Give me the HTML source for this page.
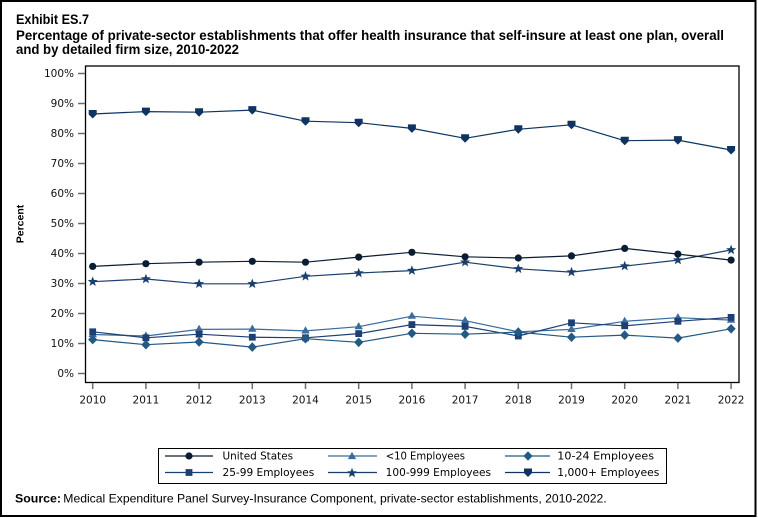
<!DOCTYPE html>
<html><head><meta charset="utf-8"><style>
html,body{margin:0;padding:0;background:#fff;}
svg{display:block;}
</style></head><body>
<svg width="758" height="518" viewBox="0 0 758 518" xmlns="http://www.w3.org/2000/svg">
<defs>
<circle id="mC" r="3.6"/>
<path id="mT" d="M0,-4.6 L4.2,2.6 L-4.2,2.6 Z"/>
<path id="mD" d="M0,-4.8 L4.6,0 L0,4.8 L-4.6,0 Z"/>
<rect id="mS" x="-3.4" y="-3.4" width="6.8" height="6.8"/>
<path id="mStar" d="M0,-5.3 L1.3,-1.8 L5.0,-1.6 L2.1,0.7 L3.1,4.3 L0,2.2 L-3.1,4.3 L-2.1,0.7 L-5.0,-1.6 L-1.3,-1.8 Z"/>
<path id="mV" d="M-4,-4 L4,-4 L4,0.5 L0,4.5 L-4,0.5 Z"/>
</defs>
<rect x="0" y="0" width="758" height="518" fill="#fff"/>
<rect x="1" y="1" width="754.5" height="515" fill="none" stroke="#000" stroke-width="2"/>

<g font-family="'Liberation Sans', Arial, sans-serif" font-weight="bold" font-size="13.5" fill="#000">
<text x="16" y="24" textLength="73" lengthAdjust="spacingAndGlyphs">Exhibit ES.7</text>
<text x="16" y="40" textLength="708" lengthAdjust="spacingAndGlyphs">Percentage of private-sector establishments that offer health insurance that self-insure at least one plan, overall</text>
<text x="16" y="54" textLength="223" lengthAdjust="spacingAndGlyphs">and by detailed firm size, 2010-2022</text>
</g>

<!-- plot frame -->
<rect x="85.5" y="66" width="653.5" height="316.5" fill="none" stroke="#000" stroke-width="1.3"/>

<!-- y ticks -->
<g stroke="#6d6d6d" stroke-width="1.5">
<line x1="78" y1="73.5" x2="85" y2="73.5"/>
<line x1="78" y1="103.5" x2="85" y2="103.5"/>
<line x1="78" y1="133.5" x2="85" y2="133.5"/>
<line x1="78" y1="163.5" x2="85" y2="163.5"/>
<line x1="78" y1="193.5" x2="85" y2="193.5"/>
<line x1="78" y1="223.5" x2="85" y2="223.5"/>
<line x1="78" y1="253.5" x2="85" y2="253.5"/>
<line x1="78" y1="283.5" x2="85" y2="283.5"/>
<line x1="78" y1="313.5" x2="85" y2="313.5"/>
<line x1="78" y1="343.5" x2="85" y2="343.5"/>
<line x1="78" y1="373.5" x2="85" y2="373.5"/>
</g>
<g font-family="'DejaVu Sans', sans-serif" font-size="10.5" fill="#111" text-anchor="end">
<text x="74" y="77.2">100%</text>
<text x="74" y="107.2">90%</text>
<text x="74" y="137.2">80%</text>
<text x="74" y="167.2">70%</text>
<text x="74" y="197.2">60%</text>
<text x="74" y="227.2">50%</text>
<text x="74" y="257.2">40%</text>
<text x="74" y="287.2">30%</text>
<text x="74" y="317.2">20%</text>
<text x="74" y="347.2">10%</text>
<text x="74" y="377.2">0%</text>
</g>
<text x="0" y="0" transform="translate(23.5,224) rotate(-90)" text-anchor="middle" font-family="'Liberation Sans', Arial, sans-serif" font-weight="bold" font-size="10.5" fill="#000">Percent</text>

<!-- x ticks -->
<g stroke="#6d6d6d" stroke-width="1.5">
<line x1="92.7" y1="383" x2="92.7" y2="389"/>
<line x1="145.9" y1="383" x2="145.9" y2="389"/>
<line x1="199.1" y1="383" x2="199.1" y2="389"/>
<line x1="252.3" y1="383" x2="252.3" y2="389"/>
<line x1="305.5" y1="383" x2="305.5" y2="389"/>
<line x1="358.7" y1="383" x2="358.7" y2="389"/>
<line x1="411.9" y1="383" x2="411.9" y2="389"/>
<line x1="465.1" y1="383" x2="465.1" y2="389"/>
<line x1="518.3" y1="383" x2="518.3" y2="389"/>
<line x1="571.5" y1="383" x2="571.5" y2="389"/>
<line x1="624.7" y1="383" x2="624.7" y2="389"/>
<line x1="677.9" y1="383" x2="677.9" y2="389"/>
<line x1="731.1" y1="383" x2="731.1" y2="389"/>
</g>
<g font-family="'DejaVu Sans', sans-serif" font-size="10.5" fill="#111" text-anchor="middle">
<text x="92.7" y="403.3">2010</text>
<text x="145.9" y="403.3">2011</text>
<text x="199.1" y="403.3">2012</text>
<text x="252.3" y="403.3">2013</text>
<text x="305.5" y="403.3">2014</text>
<text x="358.7" y="403.3">2015</text>
<text x="411.9" y="403.3">2016</text>
<text x="465.1" y="403.3">2017</text>
<text x="518.3" y="403.3">2018</text>
<text x="571.5" y="403.3">2019</text>
<text x="624.7" y="403.3">2020</text>
<text x="677.9" y="403.3">2021</text>
<text x="731.1" y="403.3">2022</text>
</g>

<!-- series lines -->
<g fill="none" stroke-width="1.2" stroke-linejoin="round">
<polyline stroke="#3a6c9c" points="92.7,334.5 145.9,336.0 199.1,329.4 252.3,329.1 305.5,330.9 358.7,326.7 411.9,316.2 465.1,320.7 518.3,331.8 571.5,329.4 624.7,321.3 677.9,317.7 731.1,320.1"/>
<polyline stroke="#1c3f75" points="92.7,331.8 145.9,337.8 199.1,334.2 252.3,337.2 305.5,337.8 358.7,333.6 411.9,324.6 465.1,326.4 518.3,336.0 571.5,322.8 624.7,325.8 677.9,321.3 731.1,317.4"/>
<polyline stroke="#235a82" points="92.7,339.6 145.9,344.7 199.1,342.0 252.3,347.1 305.5,338.7 358.7,342.3 411.9,333.3 465.1,334.2 518.3,332.1 571.5,337.2 624.7,335.1 677.9,338.1 731.1,328.8"/>
<polyline stroke="#1a3f6c" points="92.7,281.7 145.9,279.0 199.1,283.8 252.3,283.8 305.5,276.3 358.7,273.0 411.9,270.6 465.1,262.2 518.3,268.8 571.5,272.1 624.7,266.1 677.9,260.1 731.1,249.9"/>
<polyline stroke="#0b1d33" points="92.7,266.4 145.9,263.7 199.1,262.2 252.3,261.3 305.5,262.2 358.7,257.1 411.9,252.3 465.1,256.8 518.3,258.0 571.5,255.9 624.7,248.4 677.9,254.1 731.1,260.1"/>
<polyline stroke="#0f3461" points="92.7,114.0 145.9,111.6 199.1,112.2 252.3,110.1 305.5,121.2 358.7,122.7 411.9,128.4 465.1,138.3 518.3,129.3 571.5,124.8 624.7,140.7 677.9,140.1 731.1,150.0"/>
</g>

<!-- markers -->
<g fill="#3a6c9c">
<use href="#mT" x="92.7" y="334.5"/><use href="#mT" x="145.9" y="336.0"/><use href="#mT" x="199.1" y="329.4"/><use href="#mT" x="252.3" y="329.1"/><use href="#mT" x="305.5" y="330.9"/><use href="#mT" x="358.7" y="326.7"/><use href="#mT" x="411.9" y="316.2"/><use href="#mT" x="465.1" y="320.7"/><use href="#mT" x="518.3" y="331.8"/><use href="#mT" x="571.5" y="329.4"/><use href="#mT" x="624.7" y="321.3"/><use href="#mT" x="677.9" y="317.7"/><use href="#mT" x="731.1" y="320.1"/>
</g>
<g fill="#1c3f75">
<use href="#mS" x="92.7" y="331.8"/><use href="#mS" x="145.9" y="337.8"/><use href="#mS" x="199.1" y="334.2"/><use href="#mS" x="252.3" y="337.2"/><use href="#mS" x="305.5" y="337.8"/><use href="#mS" x="358.7" y="333.6"/><use href="#mS" x="411.9" y="324.6"/><use href="#mS" x="465.1" y="326.4"/><use href="#mS" x="518.3" y="336.0"/><use href="#mS" x="571.5" y="322.8"/><use href="#mS" x="624.7" y="325.8"/><use href="#mS" x="677.9" y="321.3"/><use href="#mS" x="731.1" y="317.4"/>
</g>
<g fill="#235a82">
<use href="#mD" x="92.7" y="339.6"/><use href="#mD" x="145.9" y="344.7"/><use href="#mD" x="199.1" y="342.0"/><use href="#mD" x="252.3" y="347.1"/><use href="#mD" x="305.5" y="338.7"/><use href="#mD" x="358.7" y="342.3"/><use href="#mD" x="411.9" y="333.3"/><use href="#mD" x="465.1" y="334.2"/><use href="#mD" x="518.3" y="332.1"/><use href="#mD" x="571.5" y="337.2"/><use href="#mD" x="624.7" y="335.1"/><use href="#mD" x="677.9" y="338.1"/><use href="#mD" x="731.1" y="328.8"/>
</g>
<g fill="#1a3f6c">
<use href="#mStar" x="92.7" y="281.7"/><use href="#mStar" x="145.9" y="279.0"/><use href="#mStar" x="199.1" y="283.8"/><use href="#mStar" x="252.3" y="283.8"/><use href="#mStar" x="305.5" y="276.3"/><use href="#mStar" x="358.7" y="273.0"/><use href="#mStar" x="411.9" y="270.6"/><use href="#mStar" x="465.1" y="262.2"/><use href="#mStar" x="518.3" y="268.8"/><use href="#mStar" x="571.5" y="272.1"/><use href="#mStar" x="624.7" y="266.1"/><use href="#mStar" x="677.9" y="260.1"/><use href="#mStar" x="731.1" y="249.9"/>
</g>
<g fill="#0b1d33">
<use href="#mC" x="92.7" y="266.4"/><use href="#mC" x="145.9" y="263.7"/><use href="#mC" x="199.1" y="262.2"/><use href="#mC" x="252.3" y="261.3"/><use href="#mC" x="305.5" y="262.2"/><use href="#mC" x="358.7" y="257.1"/><use href="#mC" x="411.9" y="252.3"/><use href="#mC" x="465.1" y="256.8"/><use href="#mC" x="518.3" y="258.0"/><use href="#mC" x="571.5" y="255.9"/><use href="#mC" x="624.7" y="248.4"/><use href="#mC" x="677.9" y="254.1"/><use href="#mC" x="731.1" y="260.1"/>
</g>
<g fill="#0f3461">
<use href="#mV" x="92.7" y="114.0"/><use href="#mV" x="145.9" y="111.6"/><use href="#mV" x="199.1" y="112.2"/><use href="#mV" x="252.3" y="110.1"/><use href="#mV" x="305.5" y="121.2"/><use href="#mV" x="358.7" y="122.7"/><use href="#mV" x="411.9" y="128.4"/><use href="#mV" x="465.1" y="138.3"/><use href="#mV" x="518.3" y="129.3"/><use href="#mV" x="571.5" y="124.8"/><use href="#mV" x="624.7" y="140.7"/><use href="#mV" x="677.9" y="140.1"/><use href="#mV" x="731.1" y="150.0"/>
</g>

<!-- legend -->
<rect x="158.5" y="448.5" width="508" height="35" fill="#fff" stroke="#000" stroke-width="1"/>
<g stroke-width="1.2">
<line x1="165" y1="456" x2="213" y2="456" stroke="#0b1d33"/>
<line x1="328" y1="456" x2="377" y2="456" stroke="#3a6c9c"/>
<line x1="505" y1="456" x2="550" y2="456" stroke="#235a82"/>
<line x1="165" y1="472.5" x2="213" y2="472.5" stroke="#1c3f75"/>
<line x1="328" y1="472.5" x2="377" y2="472.5" stroke="#1a3f6c"/>
<line x1="505" y1="472.5" x2="550" y2="472.5" stroke="#0f3461"/>
</g>
<use href="#mC" x="189" y="456" fill="#0b1d33"/>
<use href="#mT" x="352" y="456.5" fill="#3a6c9c"/>
<use href="#mD" x="528" y="456" fill="#235a82"/>
<use href="#mS" x="189" y="472.5" fill="#1c3f75"/>
<use href="#mStar" x="352" y="473" fill="#1a3f6c"/>
<use href="#mV" x="528" y="472.5" fill="#0f3461"/>
<g font-family="'DejaVu Sans', sans-serif" font-size="10.5" fill="#000">
<text x="222.5" y="459.3" textLength="70.6" lengthAdjust="spacingAndGlyphs">United States</text>
<text x="385.7" y="459.3" textLength="79.3" lengthAdjust="spacingAndGlyphs">&lt;10 Employees</text>
<text x="557.3" y="459.3" textLength="96.7" lengthAdjust="spacingAndGlyphs">10-24 Employees</text>
<text x="222.5" y="476" textLength="91.8" lengthAdjust="spacingAndGlyphs">25-99 Employees</text>
<text x="385.7" y="476" textLength="105.3" lengthAdjust="spacingAndGlyphs">100-999 Employees</text>
<text x="557.3" y="476" textLength="102" lengthAdjust="spacingAndGlyphs">1,000+ Employees</text>
</g>

<!-- source -->
<g font-family="'Liberation Sans', Arial, sans-serif" font-size="12" fill="#000">
<text x="15" y="502.6" font-weight="bold" textLength="46" lengthAdjust="spacingAndGlyphs">Source:</text>
<text x="63.3" y="502.6" textLength="543.4" lengthAdjust="spacingAndGlyphs">Medical Expenditure Panel Survey-Insurance Component, private-sector establishments, 2010-2022.</text>
</g>
</svg>
</body></html>
